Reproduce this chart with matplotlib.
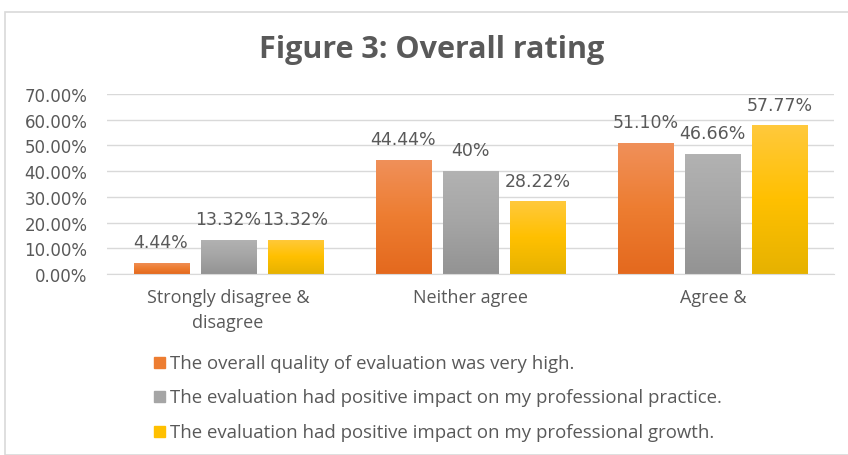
import numpy as np
import matplotlib.pyplot as plt
from matplotlib.patches import Rectangle
from matplotlib.colors import to_rgb

plt.rcParams['font.family'] = ['Open Sans', 'DejaVu Sans']

# datos
categorias = ['Strongly disagree &\ndisagree', 'Neither agree', 'Agree &']
calidad    = [4.44, 44.44, 51.10]
practica   = [13.32, 40.00, 46.66]
crecimiento = [13.32, 28.22, 57.77]
etiquetas_calidad = ['4.44%', '44.44%', '51.10%']
etiquetas_practica = ['13.32%', '40%', '46.66%']
etiquetas_crecimiento = ['13.32%', '28.22%', '57.77%']
series = ['The overall quality of evaluation was very high.',
          'The evaluation had positive impact on my professional practice.',
          'The evaluation had positive impact on my professional growth.']

colores = ['#ED7D31', '#A5A5A5', '#FFC000']
# degradado arriba / abajo tipo excel
arriba = ['#F0905A', '#B2B2B2', '#FFC93C']
abajo  = ['#E4691E', '#939393', '#E6B200']
gris_texto = '#595959'
fuente_num = 'DejaVu Sans'

W, H = 848, 456
fig = plt.figure(figsize=(W/100, H/100), dpi=100)
fig.patch.set_facecolor('white')

# marco del grafico
fig.add_artist(Rectangle((5/W, 0), 1, 1 - 13/H, transform=fig.transFigure,
                         fill=False, edgecolor='#D9D9D9', linewidth=1.2))

ax = fig.add_axes([107/W, 181/H, 727/W, 180/H])
x = np.arange(len(categorias))
ancho = 0.227
sep = 0.277

def degradado(c_top, c_mid, c_bot, n=100):
    t, m, b = np.array(to_rgb(c_top)), np.array(to_rgb(c_mid)), np.array(to_rgb(c_bot))
    s = np.linspace(0, 1, n)[:, None]
    up = t + (m - t) * np.clip(s * 2, 0, 1)
    down = m + (b - m) * np.clip(s * 2 - 1, 0, 1)
    g = np.where(s < 0.5, up, down)
    return g[:, None, :]

datos = [calidad, practica, crecimiento]
etiquetas = [etiquetas_calidad, etiquetas_practica, etiquetas_crecimiento]
for i in range(3):
    vals = np.array(datos[i]) / 100
    barras = ax.bar(x + (i - 1) * sep, vals, width=ancho, color=colores[i],
                    label=series[i], zorder=2)
    for b, val, txt in zip(barras, vals, etiquetas[i]):
        x0 = b.get_x()
        im = ax.imshow(degradado(arriba[i], colores[i], abajo[i]),
                       extent=[x0, x0 + ancho, 0, val], aspect='auto', zorder=2.5)
        im.set_clip_path(b)
        ax.annotate(txt, (x0 + ancho / 2, val), xytext=(0, 15),
                    textcoords='offset points', ha='center', va='center',
                    fontsize=12.5, color=gris_texto, family=fuente_num)

ax.set_xlim(-0.5, 2.5)
ax.set_ylim(0, 0.7)
ax.set_yticks(np.arange(0, 0.71, 0.1))
ax.set_yticklabels(['%.2f%%' % (v * 100) for v in np.arange(0, 0.71, 0.1)],
                   family=fuente_num)
ax.set_xticks(x)
ax.set_xticklabels(categorias)
ax.tick_params(axis='both', length=0, labelcolor=gris_texto)
ax.tick_params(axis='y', pad=14, labelsize=12)
ax.tick_params(axis='x', pad=10, labelsize=13)
ax.grid(True, axis='y', color='#D9D9D9', linewidth=1, zorder=0)
ax.set_axisbelow(True)
for lado in ['top', 'right', 'left']:
    ax.spines[lado].set_visible(False)
ax.spines['bottom'].set_color('#D9D9D9')
for t in ax.get_xticklabels():
    t.set_linespacing(1.5)

fig.text(432/W, 1 - 50/H, 'Figure 3: Overall rating', ha='center', va='center',
         fontsize=22, fontweight='bold', color=gris_texto)

# leyenda manual
ys = [364, 398, 433]
for i in range(3):
    fig.add_artist(Rectangle((154/W, 1 - (ys[i] + 5)/H), 11/W, 11/H,
                             transform=fig.transFigure, color=colores[i]))
    fig.text(170/W, 1 - ys[i]/H, series[i], ha='left', va='center',
             fontsize=13.4, color=gris_texto)

fig.savefig('out.png', dpi=100)
